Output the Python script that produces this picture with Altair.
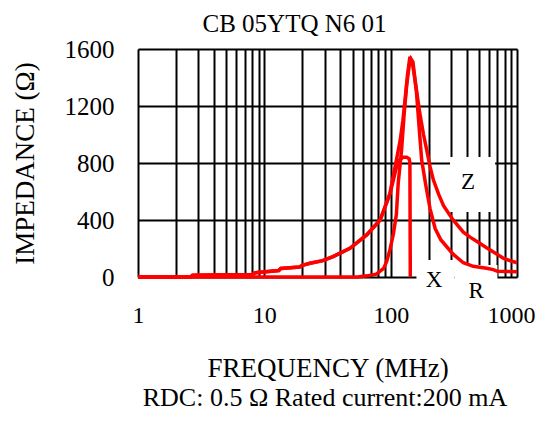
import altair as alt
import pandas as pd

# ---- data ----
z_freq = [1, 2.6, 2.7, 5, 8, 8.5, 13, 13.5, 19, 20, 23, 29, 35, 47.6, 64.6, 82.5, 98.6, 111, 119, 125, 130, 136, 142,
          150, 160, 170, 182, 193, 205, 218, 240, 262, 312, 376, 425, 500, 574, 680, 784, 900, 1000]
z_val = [0, 0, 12, 15, 17, 30, 45, 60, 70, 82, 96, 115, 143, 201, 295, 400, 587, 821, 960, 1100, 1242, 1420, 1546,
         1480, 1312, 1150, 1000, 891, 774, 680, 580, 500, 400, 315, 280, 240, 205, 165, 130, 112, 100]

x_freq = [1, 2.6, 2.7, 5, 8, 8.5, 13, 13.5, 19, 20, 23, 29, 35, 47.6, 64.6, 82.5, 98.6, 105, 111, 117, 125, 134, 140, 142, 143]
x_val = [0, 0, 12, 15, 17, 30, 45, 60, 70, 82, 96, 115, 143, 201, 295, 400, 580, 680, 770, 820, 840, 840, 830, 800, 0]

r_freq = [1, 55, 65, 77, 88, 93, 98.6, 105, 111, 114.7, 122, 128, 134, 140, 145, 150, 160, 168, 176, 190, 205,
          225, 250, 312, 376, 450, 574, 650, 700, 1000]
r_val = [0, 0, 8, 20, 60, 110, 190, 300, 440, 657, 891, 1150, 1350, 1480, 1530, 1510, 1300, 1050, 820, 640, 480,
         340, 260, 160, 100, 75, 61, 52, 40, 37]

x_ticks = [1, 2, 3, 4, 5, 6, 7, 8, 9, 10, 20, 30, 40, 50, 60, 70, 80, 90,
           100, 200, 300, 400, 500, 600, 700, 800, 900, 1000]
y_ticks = [0, 400, 800, 1200, 1600]

label_text = ["Z", "X", "R"]
label_freq = [410, 221, 475]
label_val = [667, -21, -98]

box_f1 = [295, 160, 320]
box_f2 = [671, 320, 700]
box_v1 = [842, 120, 85]
box_v2 = [456, -30, -30]

title_text = "CB 05YTQ N6 01"
note_text = "RDC: 0.5 \u03a9 Rated current:200 mA"

FONT = "Liberation Serif"

rows = []
for name, fs, vs in [("Z", z_freq, z_val), ("X", x_freq, x_val), ("R", r_freq, r_val)]:
    for i, (f, v) in enumerate(zip(fs, vs)):
        rows.append({"series": name, "freq": f, "val": v, "idx": i})
lines_df = pd.DataFrame(rows)
labels_df = pd.DataFrame({"t": label_text, "freq": label_freq, "val": label_val})
boxes_df = pd.DataFrame({"f1": box_f1, "f2": box_f2, "v1": box_v1, "v2": box_v2})

xscale = alt.Scale(type="log", domain=[1, 1000], nice=False)
yscale = alt.Scale(domain=[0, 1600], nice=False)

xaxis = alt.Axis(
    values=x_ticks,
    labelExpr="indexof([1,10,100,1000], datum.value) >= 0 ? format(datum.value, 'd') : ''",
    grid=True, gridColor="black", gridWidth=2, gridOpacity=1,
    ticks=False, domain=False,
    labelFont=FONT, labelFontSize=24, labelColor="black", labelPadding=26,
    labelOverlap=False, labelFlush=False,
    labelOffset={"condition": {"test": "datum.value == 1000", "value": -6}, "value": 0},
    title="FREQUENCY (MHz)", titleFont=FONT, titleFontSize=27, titleFontWeight="normal",
    titleColor="black", titleY=91, titleBaseline="middle",
)
yaxis = alt.Axis(
    values=y_ticks, format="d",
    grid=True, gridColor="black", gridWidth=2, gridOpacity=1,
    ticks=False, domain=False,
    labelFont=FONT, labelFontSize=25, labelColor="black", labelPadding=24,
    title="IMPEDANCE (\u03a9)", titleFont=FONT, titleFontSize=27, titleFontWeight="normal",
    titleColor="black", titleX=-113, titleBaseline="middle",
)

boxes = alt.Chart(boxes_df).mark_rect(color="white").encode(
    x=alt.X("f1:Q", scale=xscale, axis=xaxis),
    x2="f2:Q",
    y=alt.Y("v1:Q", scale=yscale, axis=yaxis),
    y2="v2:Q",
)

lines = alt.Chart(lines_df).mark_line(color="#ff0000", strokeWidth=3.5).encode(
    x=alt.X("freq:Q", scale=xscale),
    y=alt.Y("val:Q", scale=yscale),
    detail="series:N",
    order="idx:Q",
)

labels = alt.Chart(labels_df).mark_text(font=FONT, fontSize=23, color="black",
                                        align="center", baseline="middle").encode(
    x=alt.X("freq:Q", scale=xscale),
    y=alt.Y("val:Q", scale=yscale),
    text="t:N",
)

note = alt.Chart(pd.DataFrame({"t": [note_text]})).mark_text(
    font=FONT, fontSize=26, color="black", align="center", baseline="middle"
).encode(text="t:N", x=alt.value(187), y=alt.value(349))

chart = alt.layer(boxes, lines, labels, note).properties(
    width=379, height=228,
    title=alt.TitleParams(title_text, font=FONT, fontSize=25, fontWeight="normal", color="black",
                          anchor="middle", dx=-33, offset=0),
    autosize=alt.AutoSizeParams(type="none"),
    padding={"left": 130, "top": 41, "right": 22, "bottom": 134},
).configure_view(stroke="black", strokeWidth=2).configure(background="white")

chart.save("out.html", embed_options={"renderer": "svg", "actions": False})
